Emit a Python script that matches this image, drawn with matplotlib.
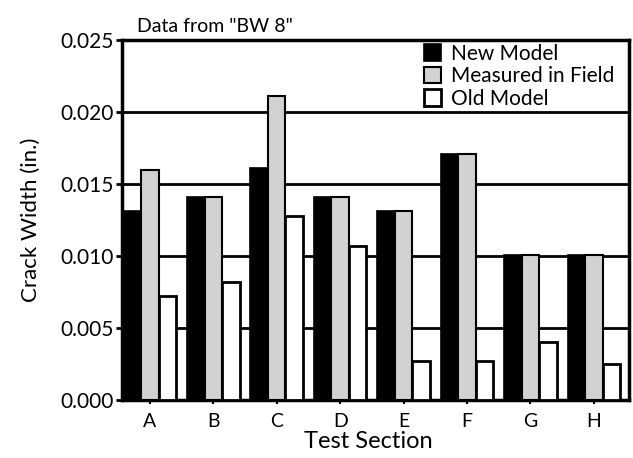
import matplotlib

matplotlib.use("Agg")
import matplotlib.pyplot as plt
import numpy as np

sections = ["A", "B", "C", "D", "E", "F", "G", "H"]
new_model = [0.0131, 0.0141, 0.0161, 0.0141, 0.0131, 0.0171, 0.0101, 0.0101]
measured = [0.0160, 0.0141, 0.0211, 0.0141, 0.0131, 0.0171, 0.0101, 0.0101]
old_model = [0.0072, 0.0082, 0.0128, 0.0107, 0.0027, 0.0027, 0.0040, 0.0025]

plt.rcParams["font.family"] = ["Lato", "DejaVu Sans"]

fig = plt.figure(figsize=(6.33, 4.58), dpi=100)
ax = fig.add_axes([0.1927, 0.1266, 0.801, 0.786])

x = np.arange(len(sections))
w = 0.276
ax.bar(x - w, new_model, w, color="black", edgecolor="black", lw=1.2,
       label="New Model", zorder=3)
ax.bar(x, measured, w, color="#d2d2d2", edgecolor="black", lw=1.5,
       label="Measured in Field", zorder=3)
ax.bar(x + w, old_model, w, color="white", edgecolor="black", lw=2,
       label="Old Model", zorder=3)

# heavy black gridlines behind the bars
for yv in [0.005, 0.010, 0.015, 0.020]:
    ax.axhline(yv, color="black", lw=2, zorder=1)

ax.set_xlim(-0.44, 7.555)
ax.set_ylim(0, 0.025)
ax.set_yticks([0, 0.005, 0.010, 0.015, 0.020, 0.025])
ax.set_yticklabels(["0.000", "0.005", "0.010", "0.015", "0.020", "0.025"])
ax.set_xticks(x)
ax.set_xticklabels(sections)
ax.tick_params(axis="y", labelsize=15, length=4, width=2, pad=2)
ax.tick_params(axis="x", labelsize=14, length=3, width=1.5, pad=6)
for s in ax.spines.values():
    s.set_linewidth(2.5)

ax.set_ylabel("Crack Width (in.)", fontsize=16, labelpad=14)
ax.set_xlabel("Test Section", fontsize=17, labelpad=2)
ax.xaxis.set_label_coords(0.485, -0.085)
ax.set_title('Data from "BW 8"', fontsize=14, loc="left", x=0.03, pad=6)

leg = ax.legend(loc="upper right", bbox_to_anchor=(0.972, 0.99), frameon=False,
                fontsize=15, handlelength=0.82, handleheight=0.82,
                handletextpad=0.5, labelspacing=0.12, borderaxespad=0.0,
                borderpad=0.0)
leg.set_zorder(5)

fig.savefig("out.png", dpi=100)
